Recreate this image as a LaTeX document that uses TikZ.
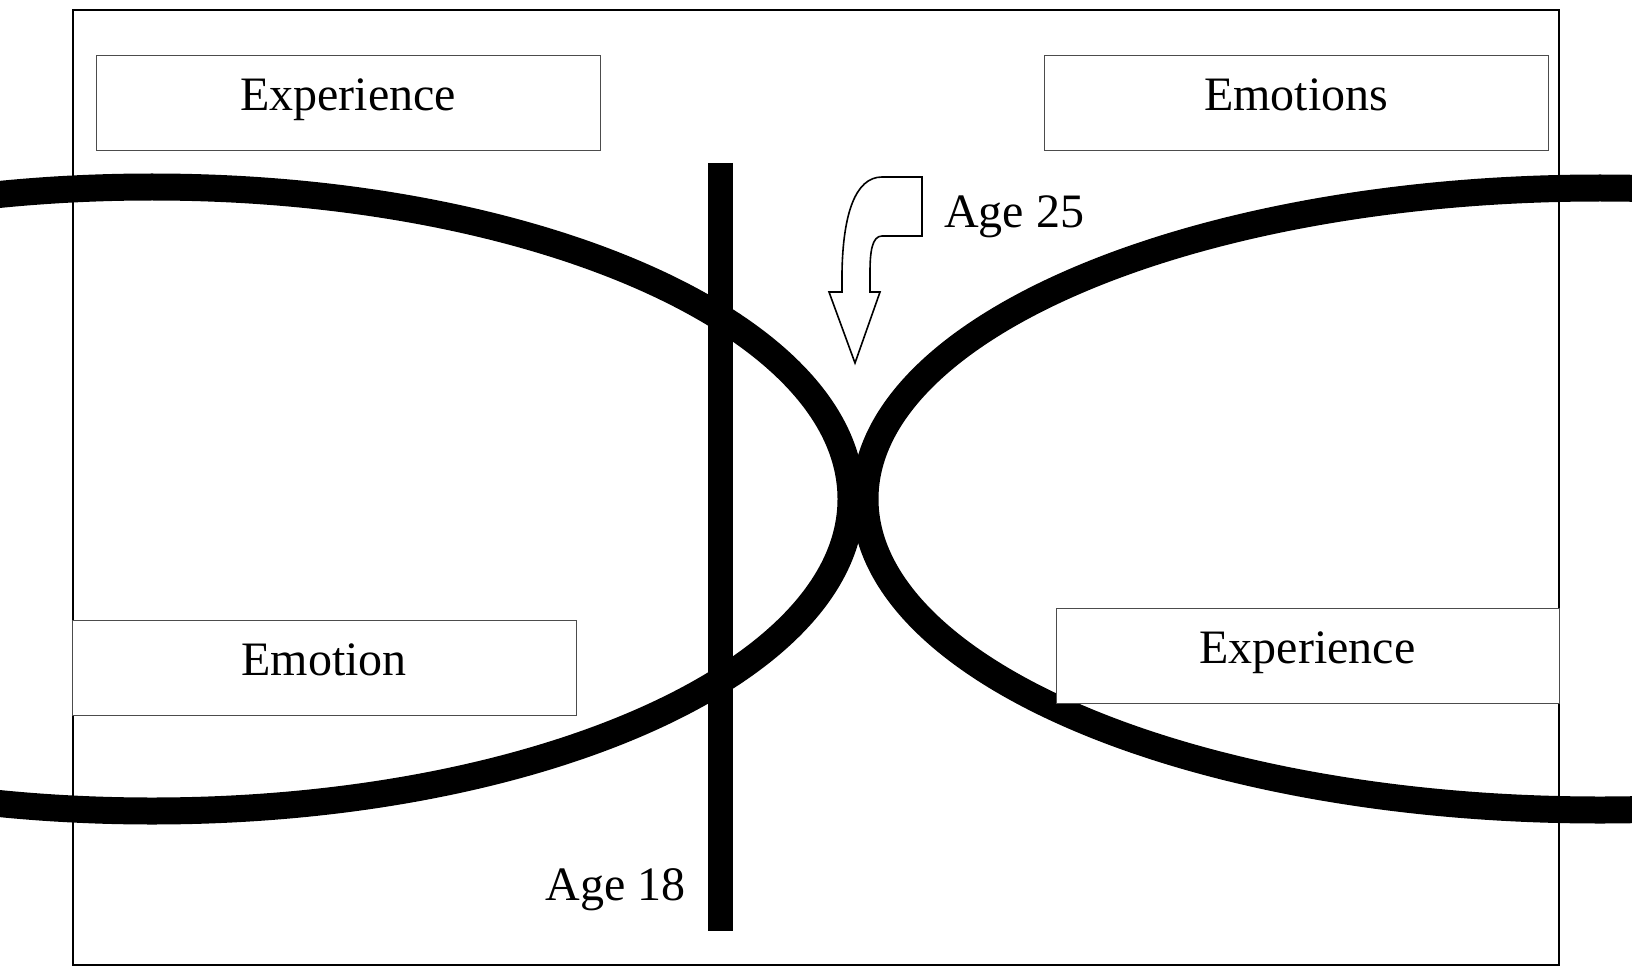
\documentclass[tikz,border=0pt]{standalone}
\usepackage{fontspec}
\setmainfont{Liberation Serif}

\begin{document}
\begin{tikzpicture}[x=1pt,y=-1pt,
  labelbox/.style={draw=black!70,line width=1pt,fill=white,inner sep=0pt,outer sep=0pt,
    minimum width=504pt,minimum height=95pt},
  labeltext/.style={anchor=base,inner sep=0pt,font=\fontsize{48}{56}\selectfont},
  band/.style={line width=27pt}]
\clip (0,0) rectangle (1632,968);
\fill[white] (0,0) rectangle (1632,968);
\draw[line width=2pt] (73,10) rectangle (1559,965);

% boxes at the top
\node[labelbox] (exptop) at (348,103.5) {};
\node[labeltext] (exptoptext) at (348,111) {Experience};
\node[labelbox] (emotop) at (1296,103.5) {};
\node[labeltext] (emotoptext) at (1296,111) {Emotions};

% the two loops
\draw[band] (152,499) ellipse [x radius=699, y radius=312];
\draw[band] (1600,499) ellipse [x radius=735, y radius=311];

% age 18 bar
\draw[line width=25pt] (720.5,163) -- (720.5,931);
\node[labeltext,anchor=base east] (age18) at (686,900) {Age 18};

% bent arrow for age 25
\draw[line width=1.6pt,fill=white,line join=miter]
  (882,177) -- (922,177) -- (922,236) -- (882,236)
  .. controls (872,236) and (870,252) .. (870,272) -- (870,292)
  -- (880,292) -- (855,363) -- (829,292) -- (842,292) -- (842,272)
  .. controls (843,215) and (855,177) .. (882,177) -- cycle;
\node[labeltext,anchor=base west] (age25) at (944,228) {Age 25};

% boxes at the bottom
\node[labelbox] (emobot) at (324,667.5) {};
\node[labeltext] (emobottext) at (324,675) {Emotion};
\node[labelbox,minimum width=503pt] (expbot) at (1307.5,655.5) {};
\node[labeltext] (expbottext) at (1307.5,663) {Experience};
\end{tikzpicture}
\end{document}
